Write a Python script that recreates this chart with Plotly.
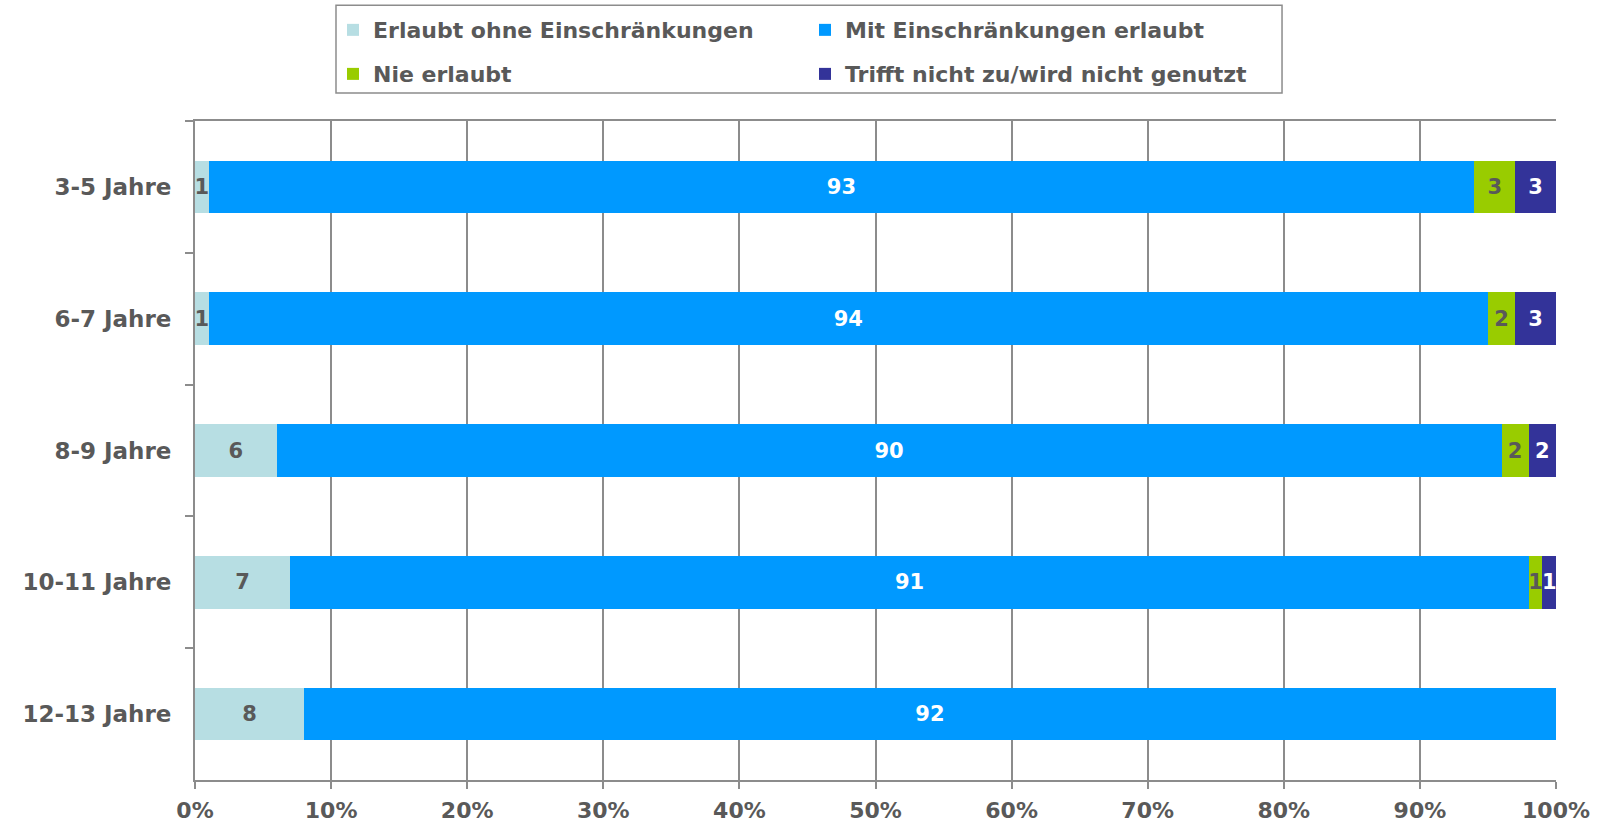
import plotly.graph_objects as go

categories = ["3-5 Jahre", "6-7 Jahre", "8-9 Jahre", "10-11 Jahre", "12-13 Jahre"]
series_names = ["Erlaubt ohne Einschränkungen", "Mit Einschränkungen erlaubt",
                "Nie erlaubt", "Trifft nicht zu/wird nicht genutzt"]
ohne = [1, 1, 6, 7, 8]
mit = [93, 94, 90, 91, 92]
nie = [3, 2, 2, 1, 0]
trifft_nicht = [3, 3, 2, 1, 0]
x_ticks = [0, 10, 20, 30, 40, 50, 60, 70, 80, 90, 100]
x_tick_labels = [f"{v}%" for v in x_ticks]

series_values = [ohne, mit, nie, trifft_nicht]
colors = ["#B7DEE3", "#0099FF", "#99CC00", "#333399"]
text_colors = ["#595959", "#FFFFFF", "#595959", "#FFFFFF"]
legends = ["legend", "legend", "legend2", "legend2"]

FONT = "DejaVu Sans"
GREY = "#595959"

fig = go.Figure()
for name, vals, col, tcol, lg in zip(series_names, series_values, colors, text_colors, legends):
    fig.add_trace(go.Bar(
        y=categories, x=vals, name=name, orientation="h",
        marker=dict(color=col, line=dict(width=0)),
        text=[str(v) if v > 0 else "" for v in vals],
        textposition="inside", insidetextanchor="middle",
        textfont=dict(family=FONT, size=21, color=tcol, weight="bold"),
        legend=lg, hoverinfo="skip",
    ))

legend_common = dict(
    orientation="h", entrywidth=427, entrywidthmode="pixels",
    bgcolor="rgba(0,0,0,0)", borderwidth=0,
    font=dict(family=FONT, size=22, color=GREY, weight="bold"),
    xanchor="left", yanchor="middle", traceorder="normal",
)

fig.update_layout(
    width=1598, height=825,
    margin=dict(l=195, r=42, t=121, b=45, autoexpand=False),
    paper_bgcolor="white", plot_bgcolor="white",
    barmode="stack", bargap=0.6,
    showlegend=True,
    legend=dict(x=0.1014, y=1.138, **legend_common),
    legend2=dict(x=0.1014, y=1.0712, **legend_common),
    uniformtext=dict(minsize=21, mode="show"),
    xaxis=dict(
        range=[0, 100], tickvals=x_ticks, ticktext=x_tick_labels,
        showgrid=True, gridcolor="#8C8C8C", gridwidth=2,
        showline=True, linecolor="#8C8C8C", linewidth=2, mirror=True,
        ticks="outside", ticklen=7, tickcolor="#8C8C8C", tickwidth=2,
        tickfont=dict(family=FONT, size=22, color=GREY, weight="bold"),
        ticklabelstandoff=3, zeroline=False, fixedrange=True,
    ),
    yaxis=dict(
        categoryorder="array", categoryarray=categories, autorange="reversed",
        showline=True, linecolor="#8C8C8C", linewidth=2,
        ticks="outside", tickson="boundaries", ticklen=8, tickcolor="#8C8C8C", tickwidth=2,
        tickfont=dict(family=FONT, size=23, color=GREY, weight="bold"),
        ticklabelstandoff=17, showgrid=False, fixedrange=True,
    ),
    shapes=[dict(
        type="rect", xref="paper", yref="paper",
        x0=0.1036, x1=0.7987, y0=1.0424, y1=1.1758,
        line=dict(color="#8C8C8C", width=1.5), fillcolor="rgba(0,0,0,0)",
    )],
)

fig.write_html(
    "out.html",
    config={"displayModeBar": False},
    post_script="document.body.style.margin='0';document.body.style.overflow='hidden';",
)
